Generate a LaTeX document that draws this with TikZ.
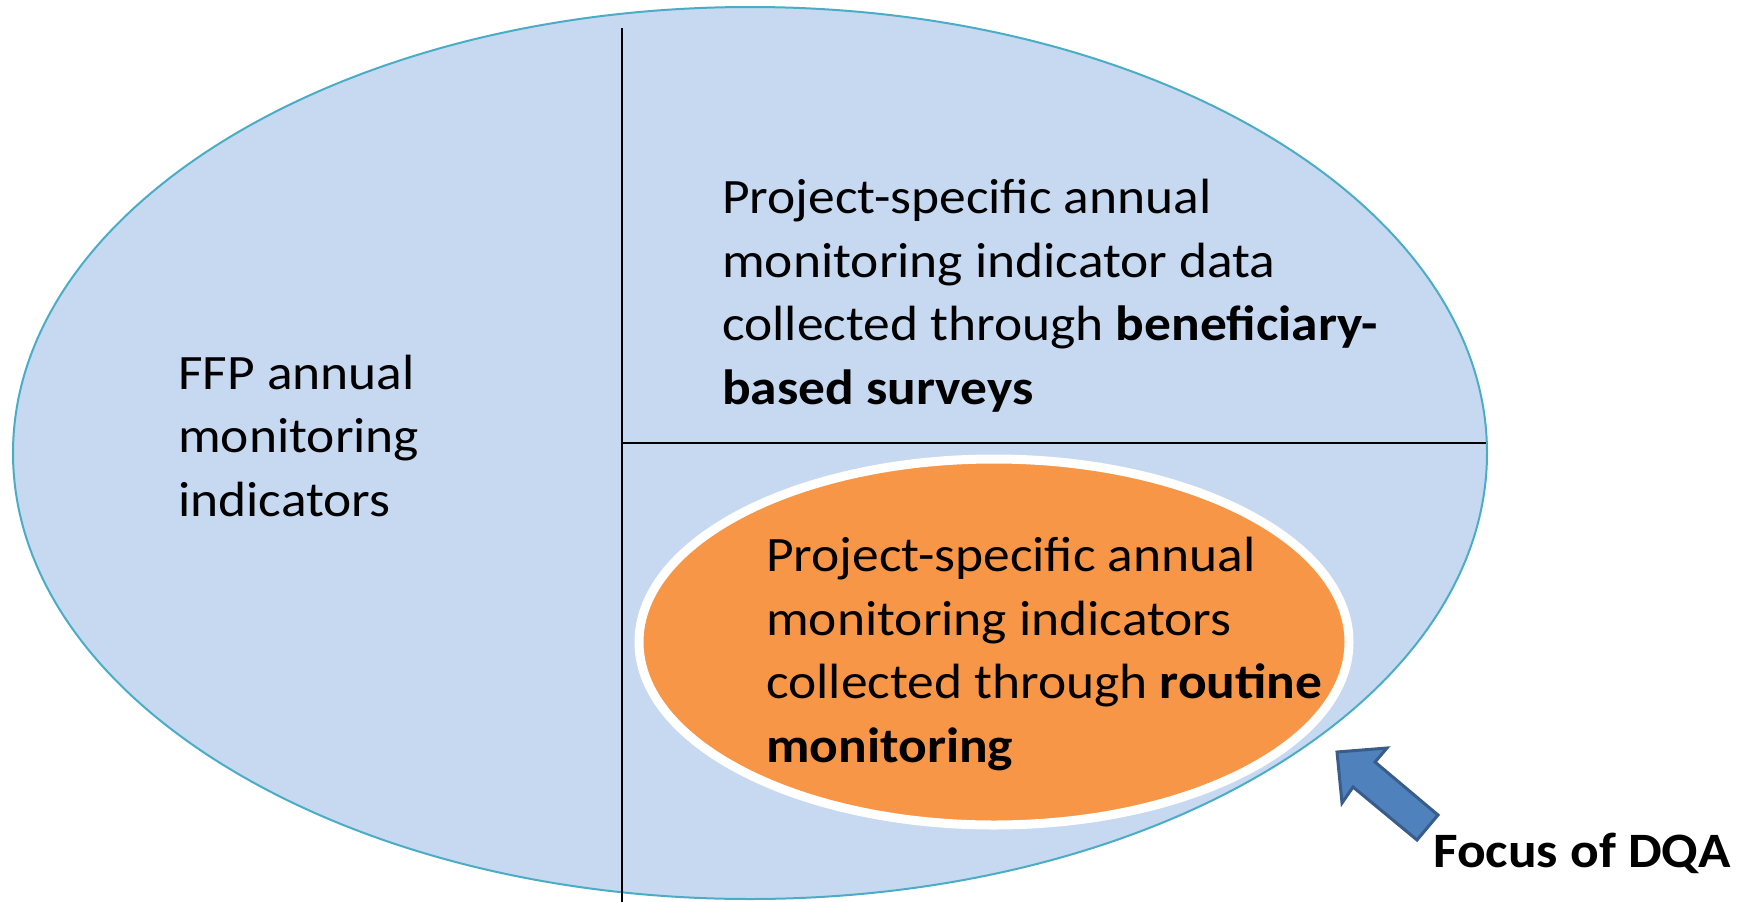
\documentclass[tikz,border=0pt]{standalone}
\usepackage{fontspec}
\setmainfont{Carlito}
\definecolor{lblue}{HTML}{C6D9F1}
\definecolor{tealb}{HTML}{4BACC6}
\definecolor{orng}{HTML}{F79646}
\definecolor{arrfill}{HTML}{4F81BD}
\definecolor{arrdraw}{HTML}{385D8A}
\tikzset{
  lbl/.style={anchor=base west, inner sep=0pt, align=left, transform shape, xscale=1.08,
    font=\fontsize{49.5}{63.5}\selectfont},
  divider/.style={black, line width=2pt}
}
\begin{document}
\begin{tikzpicture}[x=1pt, y=-1pt]
\useasboundingbox (0,0) rectangle (1748,902);
\draw[fill=lblue, draw=tealb, line width=2pt] (750,453) ellipse [x radius=737, y radius=446];
\coordinate (vtop) at (622,28);
\coordinate (vbot) at (622,902);
\coordinate (hl) at (622,443);
\coordinate (hr) at (1486,443);
\draw[divider] (vtop) -- (vbot);
\draw[divider] (hl) -- (hr);
\draw[fill=orng, draw=white, line width=9pt] (994,642) ellipse [x radius=355, y radius=183];
\node[lbl] (ffp) at (178,516) {FFP annual\\monitoring\\indicators};
\node[lbl] (surv) at (722,404) {Project-specific annual\\monitoring indicator data\\collected through \textbf{beneficiary-}\\\textbf{based surveys}};
\node[lbl] (rout) at (766,762) {Project-specific annual\\monitoring indicators\\collected through \textbf{routine}\\\textbf{monitoring}};
\node[lbl, font=\fontsize{49.5}{60}\selectfont\bfseries] (focus) at (1433,867) {Focus of DQA};
\draw[fill=arrfill, draw=arrdraw, line width=3pt, line join=miter]
  (1337,752) -- (1387,748) -- (1375,762) -- (1438,815) -- (1417,840) -- (1353,787) -- (1342,803) -- cycle;
\end{tikzpicture}
\end{document}
